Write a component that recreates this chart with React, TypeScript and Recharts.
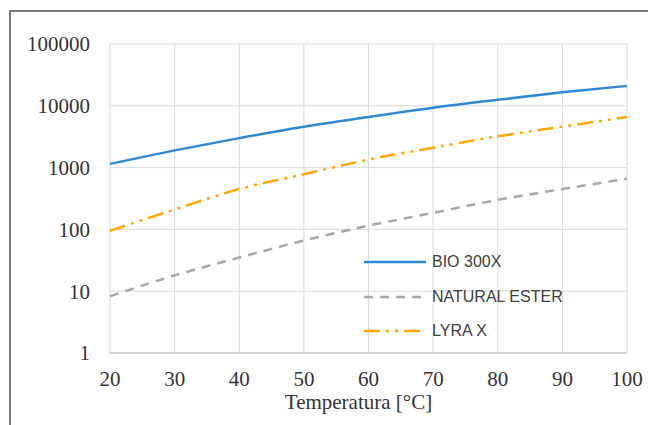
import React from 'react';
import { LineChart, Line, XAxis, YAxis, CartesianGrid } from 'recharts';

// temperature [°C]
const temperatures = [20, 30, 40, 50, 60, 70, 80, 90, 100];
const bio300x = [1150, 1900, 3000, 4600, 6600, 9300, 12500, 16500, 21000];
const naturalEster = [8.3, 18, 35, 66, 115, 185, 300, 450, 660];
const lyraX = [95, 210, 450, 780, 1350, 2100, 3200, 4600, 6600];

const xTicks = [20, 30, 40, 50, 60, 70, 80, 90, 100];
const yTicks = [1, 10, 100, 1000, 10000, 100000];

const series = [
    { key: 'bio', name: 'BIO 300X', color: '#2e88d4', dash: undefined as string | undefined },
    { key: 'ester', name: 'NATURAL ESTER', color: '#a8a8a8', dash: '9 7' },
    { key: 'lyra', name: 'LYRA X', color: '#ffa800', dash: '16 6 3 6 3 6' },
];

const data = temperatures.map((t, i) => ({
    t,
    bio: bio300x[i],
    ester: naturalEster[i],
    lyra: lyraX[i],
}));

const serif = '"Liberation Serif", "Times New Roman", serif';

const css = `
.chart-wrap .recharts-cartesian-axis-tick text,
.chart-wrap .recharts-cartesian-axis-tick-value {
  font-family: "Liberation Serif", "Times New Roman", serif !important;
  font-size: 21px !important;
}
`;

const LegendBox = () => (
    <div style={{ position: 'absolute', left: 364, top: 245, fontFamily: '"Liberation Sans", Arial, sans-serif', fontSize: 16, color: '#404040' }}>
        {series.map(s => (
            <div key={s.key} style={{ display: 'flex', alignItems: 'center', height: 34.5 }}>
                <svg width={62} height={6} style={{ marginRight: 6 }}>
                    <line x1={0} y1={3} x2={62} y2={3} stroke={s.color} strokeWidth={2.5} strokeDasharray={s.dash} />
                </svg>
                <span>{s.name}</span>
            </div>
        ))}
    </div>
);

const App: React.FC = () => {
    return (
        <div className="chart-wrap" style={{ position: 'absolute', left: 0, top: 0, width: 648, height: 425, background: '#fff', overflow: 'hidden', fontFamily: serif }}>
            <style>{css}</style>
            {/* outer frame */}
            <div style={{ position: 'absolute', left: 9, top: 10, width: 700, height: 500, borderLeft: '2px solid #7a7a7a', borderTop: '2px solid #7a7a7a' }} />
            <LineChart width={648} height={425} data={data} margin={{ top: 44, right: 21, bottom: 20, left: 0 }}>
                <CartesianGrid stroke="#d9d9d9" strokeWidth={1} />
                <XAxis
                    dataKey="t"
                    type="number"
                    domain={[20, 100]}
                    ticks={xTicks}
                    height={52}
                    tickSize={0}
                    tickMargin={18}
                    stroke="#c8c8c8"
                    strokeWidth={1.5}
                    tick={{ fill: '#333' }}
                    label={{ value: 'Temperatura [°C]', position: 'insideBottom', offset: -4, dx: -10, fill: '#333', fontFamily: serif, fontSize: 21 }}
                />
                <YAxis
                    scale="log"
                    domain={[1, 100000]}
                    ticks={yTicks}
                    allowDataOverflow
                    width={110}
                    tickSize={0}
                    tickMargin={20}
                    axisLine={false}
                    tick={{ fill: '#333' }}
                />
                {series.map(s => (
                    <Line
                        key={s.key}
                        type="monotone"
                        dataKey={s.key}
                        name={s.name}
                        stroke={s.color}
                        strokeWidth={2.5}
                        strokeDasharray={s.dash}
                        dot={false}
                        isAnimationActive={false}
                    />
                ))}
            </LineChart>
            <LegendBox />
        </div>
    );
};

export default App;
